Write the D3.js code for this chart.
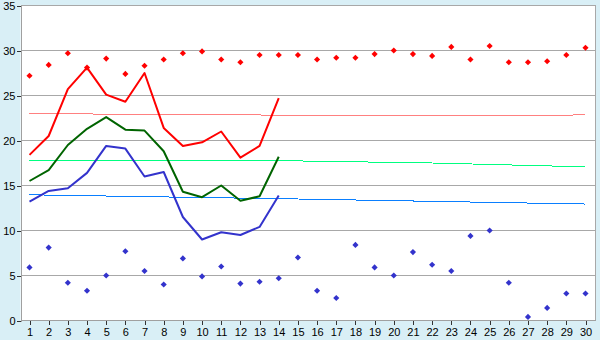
<!DOCTYPE html>
<html>
<head>
<meta charset="utf-8">
<script src="https://cdn.jsdelivr.net/npm/d3@7"></script>
<style>
  html, body { margin: 0; padding: 0; background: #d9eff6; }
  svg { display: block; font-family: "Liberation Sans", Arial, sans-serif; }
</style>
</head>
<body>
<svg id="chart" width="600" height="340"></svg>
<script>
// days on the x axis
const days = d3.range(1, 31);
const yTicks = [0, 5, 10, 15, 20, 25, 30, 35];

// record high / record low markers, one per day
const recordHigh = [27.2, 28.4, 29.7, 28.1, 29.1, 27.4, 28.3, 29.0, 29.7, 29.9,
  29.0, 28.7, 29.5, 29.5, 29.5, 29.0, 29.2, 29.2, 29.6, 30.0,
  29.6, 29.4, 30.4, 29.0, 30.5, 28.7, 28.7, 28.8, 29.5, 30.3];
const recordLow = [5.9, 8.1, 4.2, 3.3, 5.0, 7.7, 5.5, 4.0, 6.9, 4.9,
  6.0, 4.1, 4.3, 4.7, 7.0, 3.3, 2.5, 8.4, 5.9, 5.0,
  7.6, 6.2, 5.5, 9.4, 10.0, 4.2, 0.4, 1.4, 3.0, 3.0];

// measured days 1..14
const maxTemp = [18.4, 20.5, 25.7, 28.1, 25.1, 24.3, 27.5, 21.4, 19.4, 19.8, 21.0, 18.1, 19.4, 24.7];
const meanTemp = [15.5, 16.7, 19.5, 21.3, 22.6, 21.2, 21.1, 18.8, 14.3, 13.7, 15.0, 13.3, 13.8, 18.2];
const minTemp = [13.2, 14.4, 14.7, 16.4, 19.4, 19.1, 16.0, 16.5, 11.5, 9.0, 9.8, 9.5, 10.4, 13.9];

// normal (trend) curves, given at a few days
const trendDays = [1, 8, 15, 22, 30];
const normalMax = [22.98, 22.9, 22.81, 22.78, 22.84];
const normalMean = [17.81, 17.82, 17.73, 17.5, 17.07];
const normalMin = [13.97, 13.73, 13.5, 13.24, 12.94];

const svg = d3.select('#chart');
const plotLeft = 20.5, plotRight = 595.5, plotTop = 5.5, plotBottom = 320.5;

const x = d3.scalePoint().domain(days).range([29.5, 585.5]);
const y = d3.scaleLinear().domain([0, 35]).range([plotBottom, plotTop]);

// plot background
svg.append('rect')
  .attr('x', plotLeft).attr('y', plotTop)
  .attr('width', plotRight - plotLeft).attr('height', plotBottom - plotTop)
  .attr('fill', '#fff');

// gridlines
svg.append('g')
  .selectAll('line')
  .data(yTicks.filter(t => t > 0))
  .join('line')
  .attr('x1', plotLeft).attr('x2', plotRight)
  .attr('y1', d => y(d)).attr('y2', d => y(d))
  .attr('stroke', '#a8a8a8')
  .attr('shape-rendering', 'crispEdges');

// right border
svg.append('line')
  .attr('x1', plotRight).attr('x2', plotRight)
  .attr('y1', plotTop).attr('y2', plotBottom)
  .attr('stroke', '#a8a8a8')
  .attr('shape-rendering', 'crispEdges');

// trend curves
const trendLine = d3.line()
  .x((d, i) => x(trendDays[i]))
  .y(d => y(d))
  .curve(d3.curveMonotoneX);

[[normalMax, '#ff8080'], [normalMean, '#00ff80'], [normalMin, '#0a7fff']].forEach(([vals, col]) => {
  svg.append('path')
    .datum(vals)
    .attr('d', trendLine)
    .attr('fill', 'none')
    .attr('stroke', col)
    .attr('stroke-width', 1)
    .attr('shape-rendering', 'crispEdges');
});

// measured lines
const line = d3.line()
  .x((d, i) => x(days[i]))
  .y(d => y(d));

[[maxTemp, '#ff0000'], [meanTemp, '#006400'], [minTemp, '#3333cc']].forEach(([vals, col]) => {
  svg.append('path')
    .datum(vals)
    .attr('d', line)
    .attr('fill', 'none')
    .attr('stroke', col)
    .attr('stroke-width', 2)
    .attr('stroke-linejoin', 'round');
});

// record markers
const marker = d3.symbol().type(d3.symbolDiamond2).size(24);

[[recordHigh, '#ff0000'], [recordLow, '#3333cc']].forEach(([vals, col]) => {
  svg.append('g')
    .selectAll('path')
    .data(vals)
    .join('path')
    .attr('d', marker)
    .attr('transform', (d, i) => `translate(${x(days[i])},${y(d)})`)
    .attr('fill', col);
});

// axes
const yAxis = svg.append('g')
  .attr('transform', `translate(${plotLeft},0)`)
  .call(d3.axisLeft(y).tickValues(yTicks).tickSize(4).tickPadding(1));

const xAxis = svg.append('g')
  .attr('transform', `translate(0,${plotBottom})`)
  .call(d3.axisBottom(x).tickSize(4).tickPadding(4).tickSizeOuter(0));

[yAxis, xAxis].forEach(g => {
  g.select('.domain').attr('stroke', '#a0a0a0').attr('shape-rendering', 'crispEdges');
  g.selectAll('.tick line').attr('stroke', '#333').attr('shape-rendering', 'crispEdges');
  g.selectAll('.tick text').attr('fill', '#000').attr('font-size', 11)
    .attr('font-family', '"Liberation Sans", Arial, sans-serif');
});
xAxis.select('.domain').attr('d', `M${plotLeft},0H${plotRight}`);
</script>
</body>
</html>
